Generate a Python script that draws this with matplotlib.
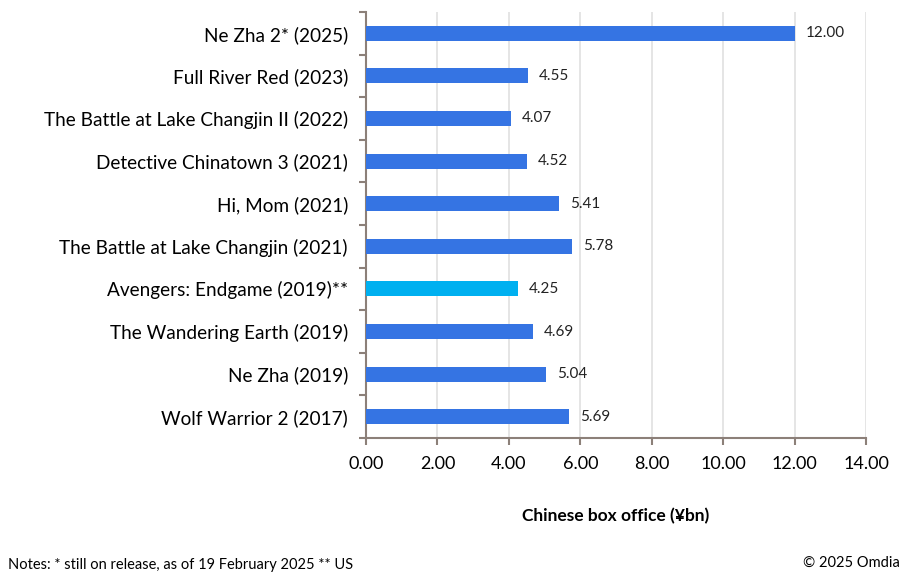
import matplotlib
matplotlib.use('Agg')
import matplotlib.pyplot as plt
import numpy as np

plt.rcParams['font.family'] = ['Lato', 'DejaVu Sans']

# ───────────── data ─────────────
films = [
    'Ne Zha 2* (2025)',
    'Full River Red (2023)',
    'The Battle at Lake Changjin II (2022)',
    'Detective Chinatown 3 (2021)',
    'Hi, Mom (2021)',
    'The Battle at Lake Changjin (2021)',
    'Avengers: Endgame (2019)**',
    'The Wandering Earth (2019)',
    'Ne Zha (2019)',
    'Wolf Warrior 2 (2017)',
]
box_office = [12.00, 4.55, 4.07, 4.52, 5.41, 5.78, 4.25, 4.69, 5.04, 5.69]
highlight = 'Avengers: Endgame (2019)**'

BLUE = '#3574e3'
CYAN = '#00b0f0'
SPINE = '#8c8079'

fig = plt.figure(figsize=(9.04, 5.76), dpi=100)
ax = fig.add_axes([366 / 904, 138 / 576, 500 / 904, 426 / 576])

y = np.arange(len(films))[::-1]
colors = [CYAN if f == highlight else BLUE for f in films]
ax.barh(y, box_office, height=0.35, color=colors, zorder=3)

for yi, v in zip(y, box_office):
    ax.text(v + 0.3, yi, f'{v:.2f}', va='center', ha='left', fontsize=11, color='#222222')

ax.set_xlim(0, 14)
ax.set_ylim(-0.5, len(films) - 0.5)
ax.set_xticks(np.arange(0, 15, 2))
ax.set_xticklabels([f'{t:.2f}' for t in np.arange(0, 15, 2)], fontsize=13)

# category labels centred, tick marks on boundaries
ax.set_yticks(y)
ax.set_yticklabels(films, fontsize=13.7)
ax.tick_params(axis='y', length=0, pad=13)
ax.set_yticks(np.arange(-0.5, len(films), 1), minor=True)
ax.tick_params(axis='y', which='minor', length=5, color=SPINE, width=1.5)
ax.tick_params(axis='x', length=5, color=SPINE, width=1.5, pad=8)

ax.grid(axis='x', color='#e0e0e0', linewidth=1.2, zorder=0)
for side in ('top', 'right'):
    ax.spines[side].set_visible(False)
for side in ('left', 'bottom'):
    ax.spines[side].set_color(SPINE)
    ax.spines[side].set_linewidth(1.5)

ax.set_xlabel('Chinese box office (¥bn)', fontsize=12.5, fontweight='bold', labelpad=26)

fig.text(8 / 904, 1 - 565 / 576, 'Notes: * still on release, as of 19 February 2025 ** US',
         fontsize=10.5, va='center', ha='left')
fig.text(900 / 904, 1 - 563 / 576, '© 2025 Omdia', fontsize=10.5, va='center', ha='right')

fig.savefig('out.png', dpi=100)
